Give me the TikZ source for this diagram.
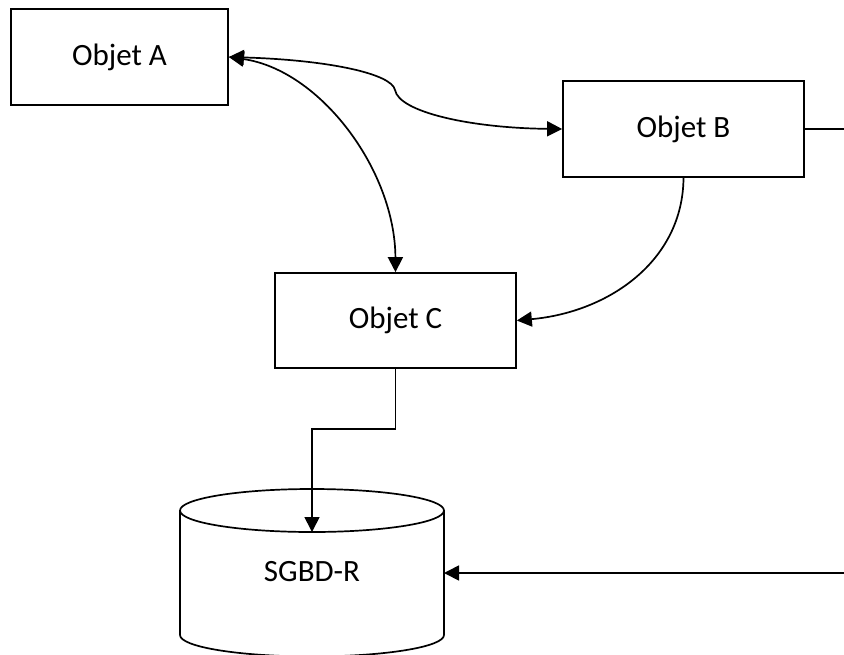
\documentclass[tikz,border=0pt]{standalone}
\usepackage{fontspec}
\setmainfont{Carlito}
\usetikzlibrary{arrows.meta}
\begin{document}
\begin{tikzpicture}[x=1pt,y=-1pt,
  line width=1.7pt,
  every node/.style={font=\fontsize{31}{36}\selectfont},
  objbox/.style={draw, line width=1.7pt, inner sep=0pt},
  tip/.style={-{Triangle[length=15pt,width=15pt]}},
  tips/.style={{Triangle[length=15pt,width=15pt]}-{Triangle[length=15pt,width=15pt]}}]
  \useasboundingbox (0,0) rectangle (844,654);

  % objects
  \node[objbox, minimum width=217pt, minimum height=96pt] (A) at (119.5,57) {Objet A};
  \node[objbox, minimum width=241pt, minimum height=96pt] (B) at (683.5,129) {Objet B};
  \node[objbox, minimum width=241pt, minimum height=95pt] (C) at (395.5,320.5) {Objet C};

  % database cylinder
  \draw (312,510.5) ellipse [x radius=132, y radius=21.5];
  \draw (180,510.5) -- (180,635) arc[start angle=180, end angle=0, x radius=132, y radius=21.5] -- (444,510.5);
  \node (db) at (312,572) {SGBD-R};
  \coordinate (dbtop) at (312,532);
  \coordinate (dbright) at (444,573);

  % loose ends on the right
  \coordinate (bout) at (844,129);
  \coordinate (rin) at (844,573);

  % connectors
  \draw[tips] (A.east) .. controls (330,60) and (392,74) .. (395,90)
                       .. controls (399,112) and (470,128) .. (B.west);
  \draw[tips] (A.east) .. controls (320,70) and (395,170) .. (C.north);
  \draw[tip] (B.south) .. controls (683,260) and (610,312) .. (C.east);
  \draw[tip] (C.south) -- (395.5,429) -- (312,429) -- (dbtop);
  \draw (B.east) -- (bout);
  \draw[tip] (rin) -- (dbright);
\end{tikzpicture}
\end{document}
